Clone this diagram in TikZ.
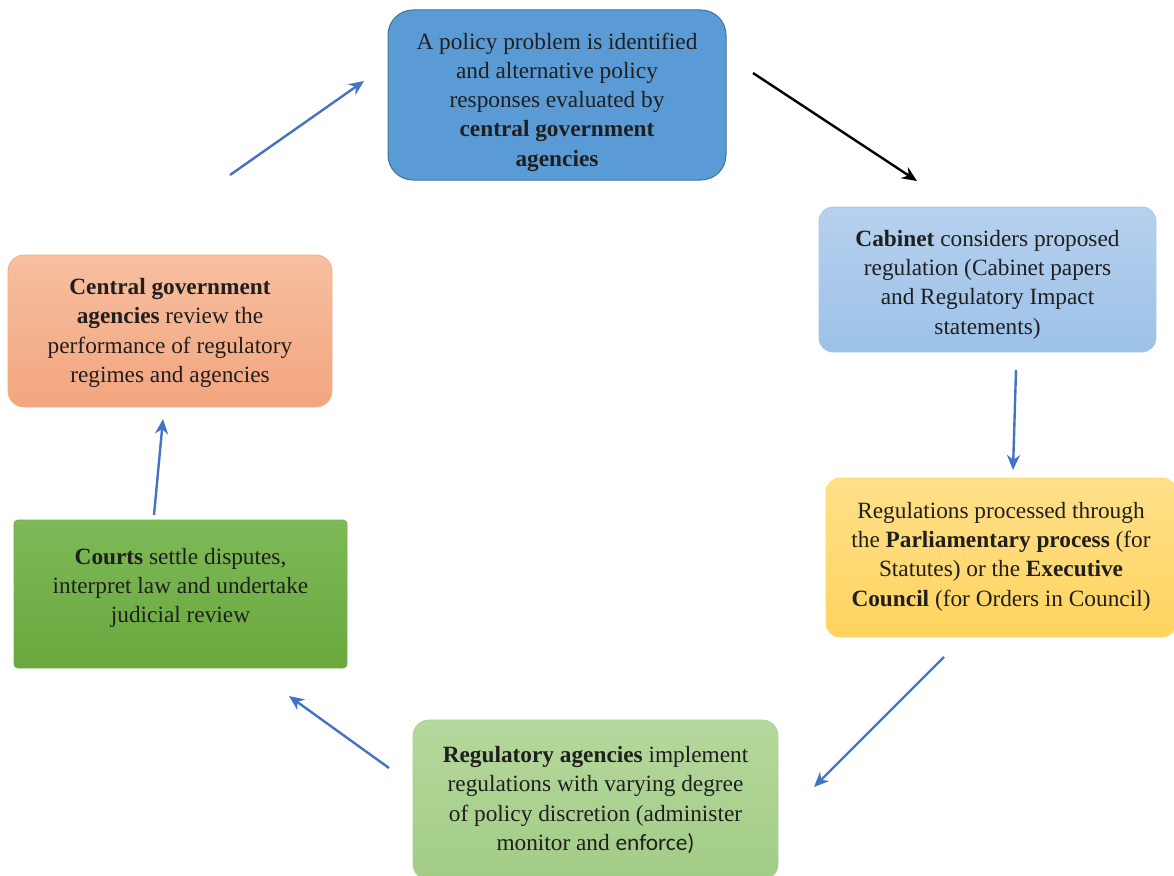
\documentclass[tikz,border=0pt]{standalone}
\usepackage{fontspec}
\setmainfont{Liberation Serif}
\newfontfamily\calib{Carlito}
\usetikzlibrary{arrows.meta,calc}
\definecolor{topblue}{HTML}{5B9BD5}
\definecolor{topblueE}{HTML}{41719C}
\definecolor{cabA}{HTML}{B7D1EE}
\definecolor{cabB}{HTML}{9CC1E8}
\definecolor{cabE}{HTML}{A9C8EA}
\definecolor{yelA}{HTML}{FFE08A}
\definecolor{yelB}{HTML}{FFD35E}
\definecolor{yelE}{HTML}{FFD966}
\definecolor{lgA}{HTML}{B5D89C}
\definecolor{lgB}{HTML}{A2CC86}
\definecolor{lgE}{HTML}{A9D18E}
\definecolor{dgA}{HTML}{7DB957}
\definecolor{dgB}{HTML}{6AA83E}
\definecolor{dgE}{HTML}{70AD47}
\definecolor{orA}{HTML}{F7BFA0}
\definecolor{orB}{HTML}{F2A57E}
\definecolor{orE}{HTML}{F4B183}
\definecolor{arrblue}{HTML}{4472C4}
\begin{document}
\begin{tikzpicture}[x=1pt,y=-1pt,
  box/.style={rectangle,inner sep=0pt},
  txt/.style={align=center,inner sep=0pt,
    font=\fontsize{23.3}{29.3}\selectfont,text=black!88},
  arr/.style={draw=arrblue,line width=2.4pt,-{Stealth[length=15pt,width=13pt]}},
  arrk/.style={draw=black,line width=2.4pt,-{Stealth[length=15pt,width=13pt]}}]
\useasboundingbox (0,0) rectangle (1174,875);
% top box
\node[box,minimum width=338pt,minimum height=170pt,rounded corners=25pt,
  fill=topblue,draw=topblueE,line width=1pt] (top) at (557,95) {};
\node[txt] (topT) at ($(top.center)+(0,7)$)
  {A policy problem is identified\\and alternative policy\\responses evaluated by\\\textbf{central government}\\\textbf{agencies}};
% cabinet
\node[box,minimum width=337pt,minimum height=145pt,rounded corners=14pt,
  top color=cabA,bottom color=cabB,draw=cabE,line width=0.8pt] (cab) at (987.5,279.5) {};
\node[txt] (cabT) at ($(cab.center)+(0,5)$)
  {\textbf{Cabinet} considers proposed\\regulation (Cabinet papers\\and Regulatory Impact\\statements)};
% yellow
\node[box,minimum width=350pt,minimum height=159pt,rounded corners=14pt,
  top color=yelA,bottom color=yelB,draw=yelE,line width=0.8pt] (par) at (1001,557.5) {};
\node[txt] (parT) at ($(par.center)+(0,-1)$)
  {Regulations processed through\\the \textbf{Parliamentary process} (for\\Statutes) or the \textbf{Executive}\\\textbf{Council} (for Orders in Council)};
% light green
\node[box,minimum width=365pt,minimum height=160pt,rounded corners=16pt,
  top color=lgA,bottom color=lgB,draw=lgE,line width=0.8pt] (reg) at (595.5,800) {};
\node[txt] (regT) at ($(reg.center)+(0,0)$)
  {\textbf{Regulatory agencies} implement\\regulations with varying degree\\of policy discretion (administer\\monitor and {\calib enforce)}};
% dark green
\node[box,minimum width=333pt,minimum height=148pt,rounded corners=4pt,
  top color=dgA,bottom color=dgB,draw=dgE,line width=0.8pt] (crt) at (180.5,594) {};
\node[txt] (crtT) at ($(crt.center)+(0,-6)$)
  {\textbf{Courts} settle disputes,\\interpret law and undertake\\judicial review};
% orange
\node[box,minimum width=324pt,minimum height=152pt,rounded corners=16pt,
  top color=orA,bottom color=orB,draw=orE,line width=0.8pt] (cen) at (170,331) {};
\node[txt] (cenT) at ($(cen.center)+(0,2)$)
  {\textbf{Central government}\\\textbf{agencies} review the\\performance of regulatory\\regimes and agencies};
% arrows
\coordinate (a1s) at (230,175); \coordinate (a1e) at (364,81);
\coordinate (a2s) at (753,73);  \coordinate (a2e) at (917,181);
\coordinate (a3s) at (1016,370); \coordinate (a3e) at (1013,470);
\coordinate (a4s) at (944,657); \coordinate (a4e) at (814,787);
\coordinate (a5s) at (389,768); \coordinate (a5e) at (289,696);
\coordinate (a6s) at (154,515); \coordinate (a6e) at (163,419);
\draw[arr] (a1s) -- (a1e);
\draw[arrk] (a2s) -- (a2e);
\draw[arr] (a3s) -- (a3e);
\draw[arr] (a4s) -- (a4e);
\draw[arr] (a5s) -- (a5e);
\draw[arr] (a6s) -- (a6e);
\end{tikzpicture}
\end{document}
